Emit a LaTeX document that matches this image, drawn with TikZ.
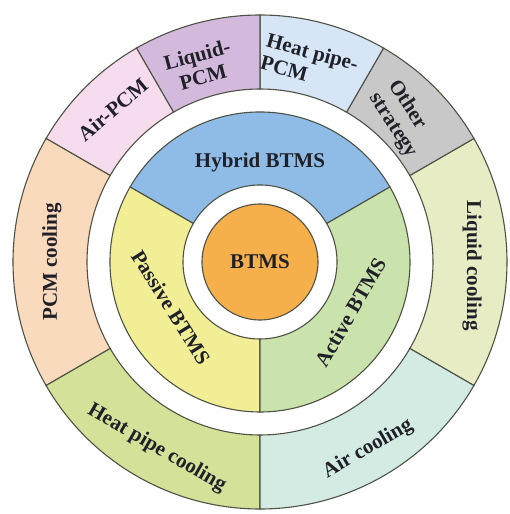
\documentclass[tikz,border=0pt]{standalone}
\usepackage{fontspec}
\setmainfont{Liberation Serif}
\usetikzlibrary{positioning}

\definecolor{edgegray}{RGB}{78,82,68}
\definecolor{labelink}{RGB}{32,32,40}
\definecolor{coreorange}{RGB}{245,176,76}
\definecolor{hybridblue}{RGB}{142,188,230}
\definecolor{passiveyellow}{RGB}{242,238,150}
\definecolor{activegreen}{RGB}{202,226,172}
\definecolor{liqcool}{RGB}{231,236,196}
\definecolor{othergray}{RGB}{200,200,200}
\definecolor{hppcm}{RGB}{214,230,246}
\definecolor{liqpcm}{RGB}{211,186,221}
\definecolor{airpcm}{RGB}{246,220,236}
\definecolor{pcmcool}{RGB}{250,218,188}
\definecolor{hpcool}{RGB}{212,225,152}
\definecolor{aircool}{RGB}{212,235,228}

\begin{document}
\begin{tikzpicture}[
    x=1pt, y=1pt,
    font=\fontsize{21}{23}\selectfont\bfseries,
    sector/.style={draw=edgegray, line width=1.1pt},
    lbl/.style={align=center, text=labelink, inner sep=0pt}
]
\fill[white] (-260,-252) rectangle (249,262);
\useasboundingbox (-260,-252) rectangle (249,262);

% outer ring
\foreach \a/\b/\c in {-30/30/liqcool, 30/60/othergray, 60/90/hppcm, 90/120/liqpcm, 120/150/airpcm, 150/210/pcmcool, 210/270/hpcool, 270/330/aircool}
  \draw[sector, fill=\c] (\a:247) arc[start angle=\a, end angle=\b, radius=247] -- (\b:173) arc[start angle=\b, end angle=\a, radius=173] -- cycle;

% middle ring
\foreach \a/\b/\c in {30/150/hybridblue, 150/270/passiveyellow, 270/390/activegreen}
  \draw[sector, fill=\c] (\a:150) arc[start angle=\a, end angle=\b, radius=150] -- (\b:77) arc[start angle=\b, end angle=\a, radius=77] -- cycle;

% core
\node[circle, draw=edgegray, line width=1.1pt, fill=coreorange, minimum size=116pt, text=labelink] (btms) at (0,0) {BTMS};

\node[lbl] (hybrid) at (90:100) {Hybrid BTMS};
\node[lbl, rotate=-58] (passive) at (207:100) {Passive BTMS};
\node[lbl, rotate=60] (active) at (331:104) {Active BTMS};

\node[lbl, rotate=40] (airpcmtxt) at (134:212) {Air-PCM};
\node[lbl, rotate=15] (liqpcmtxt) at (107:205) {Liquid-\\PCM};
\node[lbl, rotate=-15, align=left] (hppcmtxt) at (76:205) {Heat pipe-\\PCM};
\node[lbl, rotate=-57, align=left] (othertxt) at (45:202) {Other\\strategy};
\node[lbl, rotate=90] (pcmcooltxt) at (180:208) {PCM cooling};
\node[lbl, rotate=-90] (liqcooltxt) at (-1:212) {Liquid cooling};
\node[lbl, rotate=-30] (hpcooltxt) at (241:213) {Heat pipe cooling};
\node[lbl, rotate=30] (aircooltxt) at (300:216) {Air cooling};
\end{tikzpicture}
\end{document}
